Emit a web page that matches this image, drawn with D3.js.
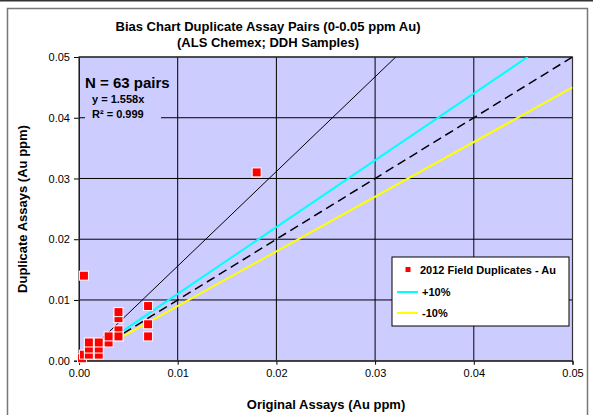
<!DOCTYPE html>
<html><head><meta charset="utf-8">
<script src="https://cdn.jsdelivr.net/npm/d3@7"></script>
<style>body{margin:0;background:#fff;}svg{display:block;font-family:"Liberation Sans",Arial,sans-serif;}</style>
</head><body>
<script>
const origX = [0.0003,0.0005,0.0005,0.001,0.001,0.001,0.002,0.002,0.002,0.003,0.003,0.004,0.004,0.004,0.004,0.004,0.007,0.007,0.007,0.018];
const dupY  = [0.0004,0.001,0.014,0.001,0.002,0.003,0.001,0.002,0.003,0.003,0.004,0.004,0.005,0.007,0.008,0.004,0.004,0.006,0.009,0.031];
const xTicks = [0,0.01,0.02,0.03,0.04,0.05];
const yTicks = [0,0.01,0.02,0.03,0.04,0.05];
const slopeTrend = 1.558;
const slopePlus = 1.1, slopeMinus = 0.9, slopeOne = 1.0;
const lineStart = 0.0045;
const legendLabels = ["2012 Field Duplicates - Au","+10%","-10%"];

const W=593,H=415;
const svg=d3.select("body").append("svg").attr("width",W).attr("height",H);
svg.append("rect").attr("width",W).attr("height",H).attr("fill","#fff");
svg.append("line").attr("x1",0).attr("x2",W).attr("y1",0.5).attr("y2",0.5).attr("stroke","#333").attr("stroke-width",2);
svg.append("rect").attr("x",7.5).attr("y",8.5).attr("width",580).attr("height",420).attr("fill","#fff").attr("stroke","#777").attr("stroke-width",1.5);

const L=79,R=572.5,T=57,B=360.7;
const x=d3.scaleLinear().domain([0,0.05]).range([L,R]);
const y=d3.scaleLinear().domain([0,0.05]).range([B,T]);

svg.append("rect").attr("x",L).attr("y",T).attr("width",R-L).attr("height",B-T).attr("fill","#CCCCFF");
// grid
svg.append("g").selectAll("line").data(xTicks.slice(1)).join("line")
 .attr("x1",d=>x(d)).attr("x2",d=>x(d)).attr("y1",T).attr("y2",B).attr("stroke","#000").attr("stroke-width",1);
svg.append("g").selectAll("line").data(yTicks.slice(1)).join("line")
 .attr("x1",L).attr("x2",R).attr("y1",d=>y(d)).attr("y2",d=>y(d)).attr("stroke","#000").attr("stroke-width",1);

// axes
const xa=svg.append("g").attr("transform",`translate(0,${B})`).call(d3.axisBottom(x).tickValues(xTicks).tickFormat(d3.format(".2f")).tickSize(4).tickPadding(5));
const ya=svg.append("g").attr("transform",`translate(${L},0)`).call(d3.axisLeft(y).tickValues(yTicks).tickFormat(d3.format(".2f")).tickSize(5).tickPadding(4));
[xa,ya].forEach(a=>{a.select(".domain").attr("stroke","#000");a.selectAll("text").attr("font-size",11).attr("fill","#000").attr("font-family","Liberation Sans, Arial, sans-serif");a.selectAll(".tick line").attr("stroke","#000");});
svg.append("rect").attr("x",L).attr("y",T).attr("width",R-L).attr("height",B-T).attr("fill","none").attr("stroke","#333").attr("stroke-width",1.2);

const clip=svg.append("clipPath").attr("id","c").append("rect").attr("x",L).attr("y",T).attr("width",R-L).attr("height",B-T);
const g=svg.append("g").attr("clip-path","url(#c)");
const line=d3.line().x(d=>x(d[0])).y(d=>y(d[1]));
function seg(slope,x0){const x1=Math.min(0.05,0.05/slope);return [[x0,slope*x0],[x1,slope*x1]];}
g.append("path").attr("d",line(seg(slopeMinus,lineStart))).attr("stroke","#FFFF00").attr("stroke-width",2).attr("fill","none");
g.append("path").attr("d",line(seg(slopePlus,lineStart))).attr("stroke","#00FFFF").attr("stroke-width",2).attr("fill","none");
g.append("path").attr("d",line(seg(slopeOne,lineStart))).attr("stroke","#000").attr("stroke-width",1.5).attr("stroke-dasharray","9,5").attr("fill","none");
g.append("path").attr("d",line(seg(slopeTrend,0.0003))).attr("stroke","#000").attr("stroke-width",1).attr("fill","none");

const pts=origX.map((v,i)=>[v,dupY[i]]);
svg.append("g").selectAll("rect").data(pts).join("rect")
 .attr("x",d=>x(d[0])-4.5).attr("y",d=>y(d[1])-4.5).attr("width",9).attr("height",9)
 .attr("fill","#FF0000").attr("stroke","#fff").attr("stroke-width",1);

// annotation
svg.append("rect").attr("x",85).attr("y",70).attr("width",76).attr("height",52).attr("fill","#CCCCFF");
svg.append("text").attr("x",85).attr("y",88).attr("font-size",15).attr("font-weight","bold").text("N = 63 pairs");
svg.append("text").attr("x",92).attr("y",103).attr("font-size",11).attr("font-weight","bold").text("y = 1.558x");
svg.append("text").attr("x",92).attr("y",118).attr("font-size",11).attr("font-weight","bold").text("R² = 0.999");

// titles
svg.append("text").attr("x",268).attr("y",31).attr("text-anchor","middle").attr("font-size",13).attr("font-weight","bold").attr("textLength",305).attr("lengthAdjust","spacingAndGlyphs").text("Bias Chart Duplicate Assay Pairs (0-0.05 ppm Au)");
svg.append("text").attr("x",268).attr("y",47).attr("text-anchor","middle").attr("font-size",13).attr("font-weight","bold").text("(ALS Chemex; DDH Samples)");
svg.append("text").attr("x",326).attr("y",409).attr("text-anchor","middle").attr("font-size",13).attr("font-weight","bold").text("Original Assays (Au ppm)");
svg.append("text").attr("transform","translate(27,209) rotate(-90)").attr("text-anchor","middle").attr("font-size",13).attr("font-weight","bold").text("Duplicate Assays (Au ppm)");

// legend
const lg=svg.append("g");
lg.append("rect").attr("x",392).attr("y",257).attr("width",177).attr("height",69).attr("fill","#fff").attr("stroke","#000").attr("stroke-width",1);
lg.append("rect").attr("x",405.5).attr("y",267).attr("width",5).attr("height",5).attr("fill","#FF0000");
lg.append("text").attr("x",420).attr("y",274).attr("font-size",11).attr("font-weight","bold").text(legendLabels[0]);
lg.append("line").attr("x1",397).attr("x2",418).attr("y1",292).attr("y2",292).attr("stroke","#00FFFF").attr("stroke-width",2);
lg.append("text").attr("x",422).attr("y",296).attr("font-size",11).attr("font-weight","bold").text(legendLabels[1]);
lg.append("line").attr("x1",397).attr("x2",418).attr("y1",313).attr("y2",313).attr("stroke","#FFFF00").attr("stroke-width",2);
lg.append("text").attr("x",422).attr("y",317).attr("font-size",11).attr("font-weight","bold").text(legendLabels[2]);
</script>
</body></html>
